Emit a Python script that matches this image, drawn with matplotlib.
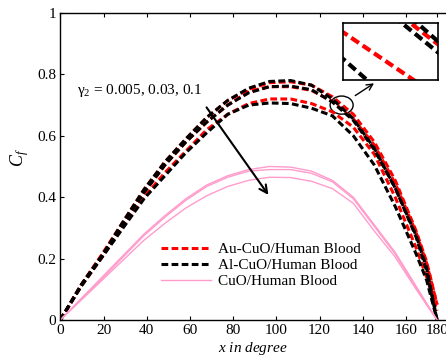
import numpy as np
import matplotlib.pyplot as plt
from matplotlib.patches import Ellipse

plt.rcParams['font.family'] = ['Liberation Serif', 'DejaVu Serif']
plt.rcParams['mathtext.fontset'] = 'custom'
plt.rcParams['mathtext.rm'] = 'Liberation Serif'
plt.rcParams['mathtext.it'] = 'Liberation Serif:italic'
plt.rcParams['font.size'] = 11

# x en degres (0 -> 180)
x = [0, 10, 20, 30, 40, 50, 60, 70, 80, 90, 100, 110, 120, 130, 140, 150, 160, 170, 175, 180]

# Au-CuO / Human Blood (gamma2 = 0.005, 0.03, 0.1)
au_1 = [0, 0.115, 0.215, 0.32, 0.425, 0.515, 0.59, 0.66, 0.715, 0.752, 0.773, 0.776, 0.765, 0.727, 0.67, 0.58, 0.455, 0.29, 0.19, 0.05]
au_2 = [0, 0.113, 0.21, 0.315, 0.415, 0.505, 0.58, 0.645, 0.70, 0.745, 0.76, 0.76, 0.748, 0.712, 0.655, 0.57, 0.445, 0.285, 0.185, 0.05]
au_3 = [0, 0.11, 0.205, 0.305, 0.40, 0.48, 0.55, 0.62, 0.67, 0.705, 0.72, 0.72, 0.705, 0.678, 0.628, 0.54, 0.40, 0.235, 0.14, 0.03]

# Al-CuO / Human Blood
al_1 = [0, 0.115, 0.21, 0.32, 0.425, 0.515, 0.59, 0.66, 0.715, 0.755, 0.777, 0.78, 0.765, 0.72, 0.655, 0.56, 0.43, 0.275, 0.17, 0]
al_2 = [0, 0.113, 0.21, 0.315, 0.415, 0.505, 0.58, 0.645, 0.70, 0.74, 0.76, 0.762, 0.75, 0.71, 0.65, 0.555, 0.43, 0.27, 0.16, 0]
al_3 = [0, 0.11, 0.205, 0.30, 0.395, 0.47, 0.545, 0.61, 0.67, 0.70, 0.707, 0.705, 0.69, 0.665, 0.60, 0.505, 0.37, 0.215, 0.13, 0]

# CuO / Human Blood
cu_1 = [0, 0.07, 0.14, 0.21, 0.28, 0.34, 0.395, 0.44, 0.47, 0.49, 0.50, 0.498, 0.485, 0.455, 0.40, 0.31, 0.22, 0.11, 0.055, 0]
cu_2 = [0, 0.068, 0.135, 0.205, 0.275, 0.335, 0.39, 0.435, 0.465, 0.485, 0.49, 0.49, 0.478, 0.45, 0.395, 0.305, 0.215, 0.105, 0.05, 0]
cu_3 = [0, 0.065, 0.13, 0.195, 0.26, 0.315, 0.365, 0.405, 0.435, 0.455, 0.465, 0.464, 0.452, 0.428, 0.38, 0.29, 0.205, 0.10, 0.05, 0]

xtick_labels = ['0', '20', '40', '60', '80', '100', '120', '140', '160', '180']
ytick_labels = ['0', '0.2', '0.4', '0.6', '0.8', '1']

rouge = '#ff0000'
noir = '#000000'
rose = '#ff9ccc'
tirets = (2.2, 1.1)

fig = plt.figure(figsize=(4.46, 3.58), dpi=100)
ax = fig.add_axes([60.3 / 446, 1 - 320 / 358, 397.7 / 446, 307 / 358])


def tracer(axe, lw_tiret, lw_rose, avec_label):
    for i, y in enumerate([au_1, au_2, au_3]):
        axe.plot(x, y, color=rouge, lw=lw_tiret, dashes=tirets,
                 label='Au-CuO/Human Blood' if (i == 0 and avec_label) else None)
    for i, y in enumerate([al_1, al_2, al_3]):
        axe.plot(x, y, color=noir, lw=lw_tiret, dashes=tirets,
                 label='Al-CuO/Human Blood' if (i == 0 and avec_label) else None)
    for i, y in enumerate([cu_1, cu_2, cu_3]):
        axe.plot(x, y, color=rose, lw=lw_rose,
                 label='CuO/Human Blood' if (i == 0 and avec_label) else None)


tracer(ax, 2.2, 1.0, True)

ax.set_xlim(0, 190)
ax.set_ylim(0, 1)
pas = 43.2 / 2.093
ax.set_xticks([pas * k for k in range(9)] + [180])
ax.set_xticklabels(xtick_labels)
ax.set_yticks([0, 0.2, 0.4, 0.6, 0.8, 1])
ax.set_yticklabels(ytick_labels)
ax.tick_params(direction='in', top=True, right=True, length=3, width=0.8, pad=3)
for s in ax.spines.values():
    s.set_linewidth(1.0)

ax.set_xlabel('$x$ $in$ $degree$')
ax.xaxis.set_label_coords((253 - 60.3) / 397.7, -0.066)
ax.set_ylabel('$C_f$', fontsize=13)
ax.yaxis.set_label_coords(-0.074, (320 - 158) / 307)

leg = ax.legend(loc='upper left', bbox_to_anchor=(0.253, 0.252), frameon=False,
                borderpad=0, borderaxespad=0, handlelength=3.3, handletextpad=0.45,
                labelspacing=0.14)

# gamma2 et fleche
ax.text(8, 0.749, 'γ$_2$ = 0.005, 0.03, 0.1', va='center', ha='left')
ax.annotate('', xy=(100.2, 0.40), xytext=(69.1, 0.70),
            arrowprops=dict(arrowstyle='->', color='black', lw=1.5, mutation_scale=14))

# zoom
ax.add_patch(Ellipse((134.4, 0.70), 11, 0.059, fill=False, color='black', lw=1.0))
ax.annotate('', xy=(151, 0.776), xytext=(139.8, 0.726),
            arrowprops=dict(arrowstyle='->', color='black', lw=1.0))

axi = fig.add_axes([343 / 446, 1 - 80 / 358, 95 / 446, 57 / 358])
tracer(axi, 3.0, 1.0, False)
axi.set_xlim(131, 138)
axi.set_ylim(0.647, 0.678)
axi.set_xticks([])
axi.set_yticks([])
for s in axi.spines.values():
    s.set_linewidth(1.2)

fig.savefig('out.png', dpi=100)
